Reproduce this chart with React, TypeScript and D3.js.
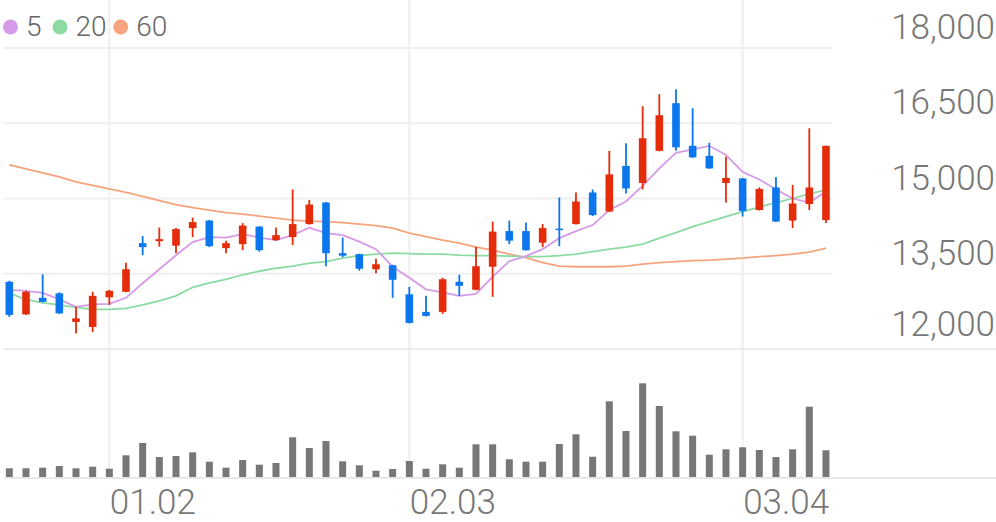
import React from "react";
import * as d3 from "d3";

const dateLabels = [
  { index: 6, label: "01.02" },
  { index: 24, label: "02.03" },
  { index: 44, label: "03.04" },
];

const opens = [13340, 12690, 13020, 13110, 12540, 12440, 13030, 13140, 14110, 14150, 14060, 14410, 14560, 14010, 14090, 14440, 14170, 14230, 14490, 14920, 13910, 13890, 13590, 13670, 13090, 12740, 12740, 13340, 13180, 13640, 14350, 14350, 14120, 14400, 14490, 15120, 14740, 15650, 15310, 15950, 16900, 16050, 15850, 15310, 15400, 14770, 15220, 14560, 14890, 14570];
const highs = [13360, 13160, 13490, 13130, 12840, 13140, 13180, 13720, 14250, 14420, 14410, 14620, 14570, 14160, 14510, 14450, 14420, 15180, 14970, 14930, 14220, 13900, 13800, 13680, 13240, 13060, 13420, 13480, 14040, 14540, 14560, 14520, 14490, 15020, 15120, 15180, 15950, 16100, 16840, 17080, 17180, 16800, 16110, 15830, 15410, 15220, 15430, 15270, 16400, 16050];
const lows = [12640, 12680, 12930, 12700, 12310, 12340, 12880, 13130, 13870, 14040, 13910, 14230, 14030, 13910, 13970, 13940, 14160, 14070, 14480, 13650, 13830, 13560, 13510, 13020, 12510, 12650, 12700, 13060, 13170, 13040, 14090, 13960, 14030, 14050, 14480, 14650, 14730, 15100, 15180, 15940, 15950, 15810, 15590, 14920, 14640, 14760, 14530, 14410, 14770, 14510];
const closes = [12680, 13140, 12940, 12710, 12610, 13060, 13160, 13590, 14030, 14190, 14390, 14530, 14050, 14110, 14460, 13970, 14270, 14490, 14880, 13910, 13860, 13600, 13690, 13380, 12520, 12660, 13390, 13260, 13650, 14340, 14160, 13970, 14410, 14370, 14940, 14670, 15480, 15200, 16200, 16660, 16020, 15820, 15600, 15410, 14750, 15190, 14540, 14900, 15220, 16050];
const volumes = [9700, 9700, 10300, 12000, 9700, 11300, 9300, 22700, 35000, 21000, 22000, 25700, 16300, 10300, 18000, 13300, 15000, 40700, 30000, 37000, 16700, 12700, 7300, 9000, 17000, 9300, 13700, 10300, 33700, 33700, 18700, 16300, 16300, 34000, 43700, 21300, 76700, 47000, 94700, 72000, 46700, 42300, 23300, 28700, 30700, 28000, 21000, 28700, 71300, 27700];

const ma5 = [13180, 13160, 13120, 12990, 12840, 12890, 12900, 13020, 13310, 13590, 13870, 14130, 14230, 14220, 14290, 14220, 14170, 14270, 14420, 14310, 14270, 14140, 13990, 13640, 13420, 13190, 13130, 13060, 13100, 13440, 13750, 13850, 13990, 14210, 14350, 14470, 14770, 14940, 15250, 15600, 15910, 15980, 16050, 15870, 15530, 15380, 15180, 15000, 14920, 15140];
const ma20 = [13110, 12990, 12920, 12880, 12830, 12790, 12790, 12810, 12880, 12960, 13060, 13230, 13320, 13390, 13480, 13550, 13610, 13650, 13710, 13740, 13810, 13860, 13890, 13910, 13900, 13890, 13890, 13870, 13860, 13860, 13850, 13840, 13840, 13860, 13890, 13940, 13990, 14030, 14090, 14210, 14320, 14440, 14540, 14640, 14740, 14830, 14920, 15000, 15090, 15170];
const ma60 = [15670, 15590, 15510, 15430, 15330, 15260, 15190, 15120, 15040, 14960, 14880, 14820, 14770, 14720, 14690, 14650, 14610, 14570, 14550, 14540, 14520, 14490, 14460, 14410, 14310, 14240, 14170, 14110, 14030, 13970, 13890, 13820, 13720, 13650, 13640, 13640, 13640, 13650, 13690, 13720, 13740, 13760, 13770, 13790, 13810, 13840, 13860, 13890, 13930, 14010];

const priceTicks = [12000, 13500, 15000, 16500, 18000];
const legendItems = [
  { label: "5", color: "#d59be9" },
  { label: "20", color: "#8cdba2" },
  { label: "60", color: "#f6a47d" },
];

const W = 996;
const H = 522;
const UP = "#e42c0a";
const DOWN = "#0c76ec";
const GRID = "#efefef";
const FONT = "Roboto, 'Noto Sans', sans-serif";

export default function App() {
  const idx = d3.range(closes.length);
  const x = d3.scaleBand<number>().domain(idx).range([1, 834.3]);
  const cx = (i: number) => (x(i) as number) + x.bandwidth() / 2;
  const y = d3.scaleLinear().domain([12000, 18000]).range([349, 48]);
  const yv = d3.scaleLinear().domain([0, 100000]).range([478, 378]);

  const line = (arr: number[]) =>
    d3
      .line<number>()
      .x((_, i) => cx(i))
      .y((d) => y(d))
      .curve(d3.curveLinear)(arr) as string;

  const bodyW = 7.6;
  const volW = 7;
  const legendX = [10.5, 60, 120.7];

  return (
    <svg
      width={W}
      height={H}
      style={{ position: "absolute", left: 0, top: 0, background: "#fff" }}
      fontFamily={FONT}
    >
      {dateLabels.map((d) => (
        <line key={"vg" + d.index} x1={cx(d.index)} x2={cx(d.index)} y1={0} y2={478} stroke={GRID} strokeWidth={2} />
      ))}
      {priceTicks.map((p) => (
        <line
          key={"hg" + p}
          x1={4}
          x2={p === 12000 ? W : 832}
          y1={y(p)}
          y2={y(p)}
          stroke={p === 12000 ? "#ebebeb" : GRID}
          strokeWidth={2}
        />
      ))}
      <line x1={4} x2={W} y1={478} y2={478} stroke="#e8e8e8" strokeWidth={2} />

      {volumes.map((v, i) => (
        <rect key={"v" + i} x={cx(i) - volW / 2} y={yv(v)} width={volW} height={477 - yv(v)} fill="#777777" />
      ))}

      <path d={line(ma60)} fill="none" stroke="#f6a47d" strokeWidth={1.8} />
      <path d={line(ma20)} fill="none" stroke="#8cdba2" strokeWidth={1.8} />
      <path d={line(ma5)} fill="none" stroke="#d59be9" strokeWidth={1.8} />

      {idx.map((i) => {
        const o = opens[i];
        const c = closes[i];
        const up = c >= o;
        const col = up ? UP : DOWN;
        const top = y(Math.max(o, c));
        const bot = y(Math.min(o, c));
        return (
          <g key={"c" + i}>
            <line x1={cx(i)} x2={cx(i)} y1={y(highs[i])} y2={y(lows[i])} stroke={col} strokeWidth={1.8} />
            <rect x={cx(i) - bodyW / 2} y={top} width={bodyW} height={Math.max(bot - top, 1.5)} fill={col} />
          </g>
        );
      })}

      {priceTicks.map((p) => (
        <text
          key={"yl" + p}
          x={995}
          y={Math.min(y(p) - 9, 336)}
          textAnchor="end"
          fontSize={35}
          fontWeight={300}
          fill="#777"
        >
          {d3.format(",")(p)}
        </text>
      ))}

      {dateLabels.map((d) => (
        <text key={"xl" + d.index} x={cx(d.index) + 0.5} y={514} fontSize={35} fontWeight={300} fill="#777">
          {d.label}
        </text>
      ))}

      {legendItems.map((it, k) => {
        const px = legendX[k];
        return (
          <g key={"lg" + k}>
            <circle cx={px} cy={27} r={7.5} fill={it.color} />
            <text x={px + 15.5} y={35.5} fontSize={28} fontWeight={300} fill="#666">
              {it.label}
            </text>
          </g>
        );
      })}
    </svg>
  );
}
